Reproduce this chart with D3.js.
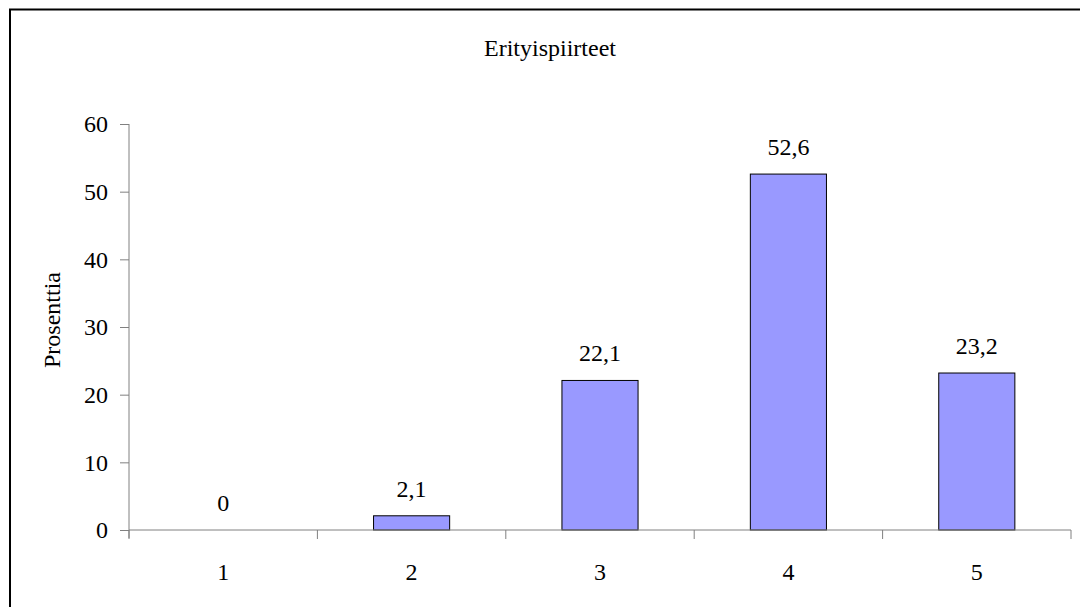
<!DOCTYPE html>
<html>
<head>
<meta charset="utf-8">
<script src="https://cdn.jsdelivr.net/npm/d3@7"></script>
<style>
  html, body { margin: 0; padding: 0; background: #fff; }
  svg { display: block; }
  svg text { font-family: "Liberation Serif", "Times New Roman", serif !important; fill: #000; }
</style>
</head>
<body>
<svg id="chart" width="1080" height="607"></svg>
<script>
// Share of responses per rating (1–5), percent
const categories = ["1", "2", "3", "4", "5"];
const values = [0, 2.1, 22.1, 52.6, 23.2];
const valueLabels = ["0", "2,1", "22,1", "52,6", "23,2"];
const yTicks = [0, 10, 20, 30, 40, 50, 60];
const title = "Erityispiirteet";
const yTitle = "Prosenttia";

const serif = "'Liberation Serif', 'Times New Roman', serif";
const svg = d3.select("#chart");
const plot = { left: 129, right: 1071, top: 124, bottom: 530 };

// outer frame (right and bottom edges fall outside the canvas)
svg.append("rect")
  .attr("x", 10).attr("y", 9.5)
  .attr("width", 1100).attr("height", 640)
  .attr("fill", "none").attr("stroke", "#000").attr("stroke-width", 2);

const x = d3.scaleBand().domain(categories).range([plot.left, plot.right]);
const y = d3.scaleLinear().domain([0, 60]).range([plot.bottom, plot.top]);
const barWidth = x.bandwidth() * 0.404;
const cx = c => x(c) + x.bandwidth() / 2;

// bars
svg.append("g").selectAll("rect")
  .data(values)
  .join("rect")
  .attr("x", (d, i) => cx(categories[i]) - barWidth / 2)
  .attr("width", barWidth)
  .attr("y", d => y(d))
  .attr("height", d => y(0) - y(d))
  .attr("fill", "#9999FF")
  .attr("stroke", "#000")
  .attr("stroke-width", 1);

// y axis
const yAxis = svg.append("g")
  .attr("transform", `translate(${plot.left},0)`)
  .call(d3.axisLeft(y).tickValues(yTicks).tickSize(9).tickPadding(12).tickFormat(d3.format("d")));
yAxis.attr("font-family", null).attr("font-size", null);
yAxis.select(".domain").attr("stroke", "#808080").attr("d", `M0,${plot.top}V${plot.bottom + 8}`);
yAxis.selectAll(".tick line").attr("stroke", "#808080");
yAxis.selectAll("text").style("font-family", serif).style("font-size", "24px").attr("fill", "#000");

// x axis with ticks at category boundaries
const xAxisG = svg.append("g").attr("transform", `translate(0,${plot.bottom})`);
xAxisG.append("line")
  .attr("x1", plot.left).attr("x2", plot.right)
  .attr("stroke", "#808080");
const boundaries = categories.map(c => x(c)).concat([plot.right]);
xAxisG.selectAll("line.tk")
  .data(boundaries)
  .join("line")
  .attr("class", "tk")
  .attr("x1", d => d).attr("x2", d => d)
  .attr("y1", 0).attr("y2", 9)
  .attr("stroke", "#808080");
xAxisG.selectAll("text")
  .data(categories)
  .join("text")
  .attr("x", d => cx(d))
  .attr("y", 50)
  .attr("text-anchor", "middle")
  .style("font-family", serif).style("font-size", "24px")
  .text(d => d);

// value labels
svg.append("g").selectAll("text")
  .data(values)
  .join("text")
  .attr("x", (d, i) => cx(categories[i]))
  .attr("y", d => y(d) - 19)
  .attr("text-anchor", "middle")
  .style("font-family", serif).style("font-size", "24px")
  .text((d, i) => valueLabels[i]);

// titles
svg.append("text")
  .attr("x", 550).attr("y", 56)
  .attr("text-anchor", "middle")
  .style("font-family", serif).style("font-size", "24px")
  .text(title);

svg.append("text")
  .attr("transform", `translate(60,320) rotate(-90)`)
  .attr("text-anchor", "middle")
  .style("font-family", serif).style("font-size", "24px")
  .text(yTitle);
</script>
</body>
</html>
